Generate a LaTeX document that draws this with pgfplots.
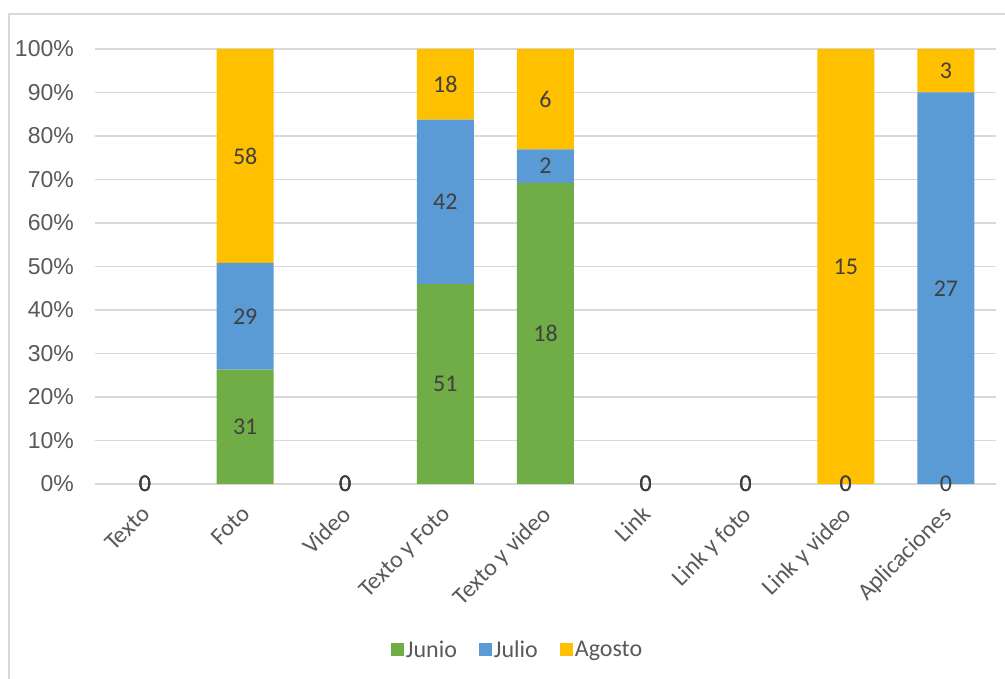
\documentclass[border=0pt]{standalone}
\usepackage{fontspec}
\setmainfont{Carlito}
\newfontfamily\libsans{Liberation Sans}
\usepackage{pgfplots}
\pgfplotsset{compat=1.18}
\definecolor{junio}{HTML}{70AD47}
\definecolor{julio}{HTML}{5B9BD5}
\definecolor{agosto}{HTML}{FFC000}
\definecolor{gridc}{HTML}{D9D9D9}
\definecolor{tickc}{HTML}{595959}
\definecolor{labc}{HTML}{404040}
\begin{document}
\begin{tikzpicture}[x=1pt,y=1pt]
\useasboundingbox (0,0) rectangle (1005,679);
\draw[gridc, line width=1.5pt] (9,0) -- (9,665) -- (1005,665);
\begin{axis}[
  at={(95pt,195pt)}, anchor=south west,
  scale only axis, width=901pt, height=435pt,
  ybar stacked, bar width=57pt,
  xmin=-0.5, xmax=8.5, ymin=0, ymax=100,
  xtick={0,...,8},
  xticklabels={Texto,Foto,Video,Texto y Foto,Texto y video,Link,Link y foto,Link y video,Aplicaciones},
  ytick={0,10,...,100},
  /pgf/number format/assume math mode=true,
  yticklabel={\pgfmathprintnumber{\tick}\%},
  yticklabel style={font=\libsans\fontsize{23}{27}\selectfont, text=tickc, anchor=east, inner sep=0pt, xshift=-21pt},
  xticklabel style={font=\fontsize{24}{28}\selectfont, text=tickc, xshift=-5pt, yshift=-20pt, rotate=45, anchor=north east, inner sep=0pt},
  major tick length=0pt,
  axis line style={draw=none},
  ymajorgrids, major grid style={gridc, line width=1.5pt},
  legend image code/.code={\draw[#1,draw=none] (0pt,-6.5pt) rectangle (13pt,6.5pt);},
  legend style={at={(0.4690,-0.3816)}, anchor=center, draw=none, fill=none,
    legend columns=-1, font=\fontsize{24}{28}\selectfont, text=tickc,
    /tikz/every even column/.append style={column sep=20pt}},
]
\addplot[fill=junio, draw=none] coordinates {(0,0) (1,26.27) (2,0) (3,45.95) (4,69.23) (5,0) (6,0) (7,0) (8,0)};
\addplot[fill=julio, draw=none] coordinates {(0,0) (1,24.58) (2,0) (3,37.84) (4,7.69) (5,0) (6,0) (7,0) (8,90)};
\addplot[fill=agosto, draw=none] coordinates {(0,0) (1,49.15) (2,0) (3,16.21) (4,23.08) (5,0) (6,0) (7,100) (8,10)};
\legend{Junio,Julio,Agosto}
\end{axis}
\begin{axis}[
  at={(95pt,195pt)}, anchor=south west,
  scale only axis, width=901pt, height=435pt,
  xmin=-0.5, xmax=8.5, ymin=0, ymax=100,
  hide axis, clip=false,
  point meta=explicit symbolic,
  nodes near coords,
  nodes near coords style={anchor=center, font=\fontsize{24}{28}\selectfont, text=labc},
]
\addplot[draw=none, mark=none] coordinates {
 (0,0) [0] (0,0) [0] (0,0) [0]
 (1,13.14) [31] (1,38.56) [29] (1,75.42) [58]
 (2,0) [0] (2,0) [0] (2,0) [0]
 (3,22.97) [51] (3,64.86) [42] (3,91.89) [18]
 (4,34.62) [18] (4,73.08) [2] (4,88.46) [6]
 (5,0) [0] (5,0) [0] (5,0) [0]
 (6,0) [0] (6,0) [0] (6,0) [0]
 (7,0) [0] (7,0) [0] (7,50) [15]
 (8,0) [0] (8,45) [27] (8,95) [3]
};
\end{axis}
\end{tikzpicture}
\end{document}
